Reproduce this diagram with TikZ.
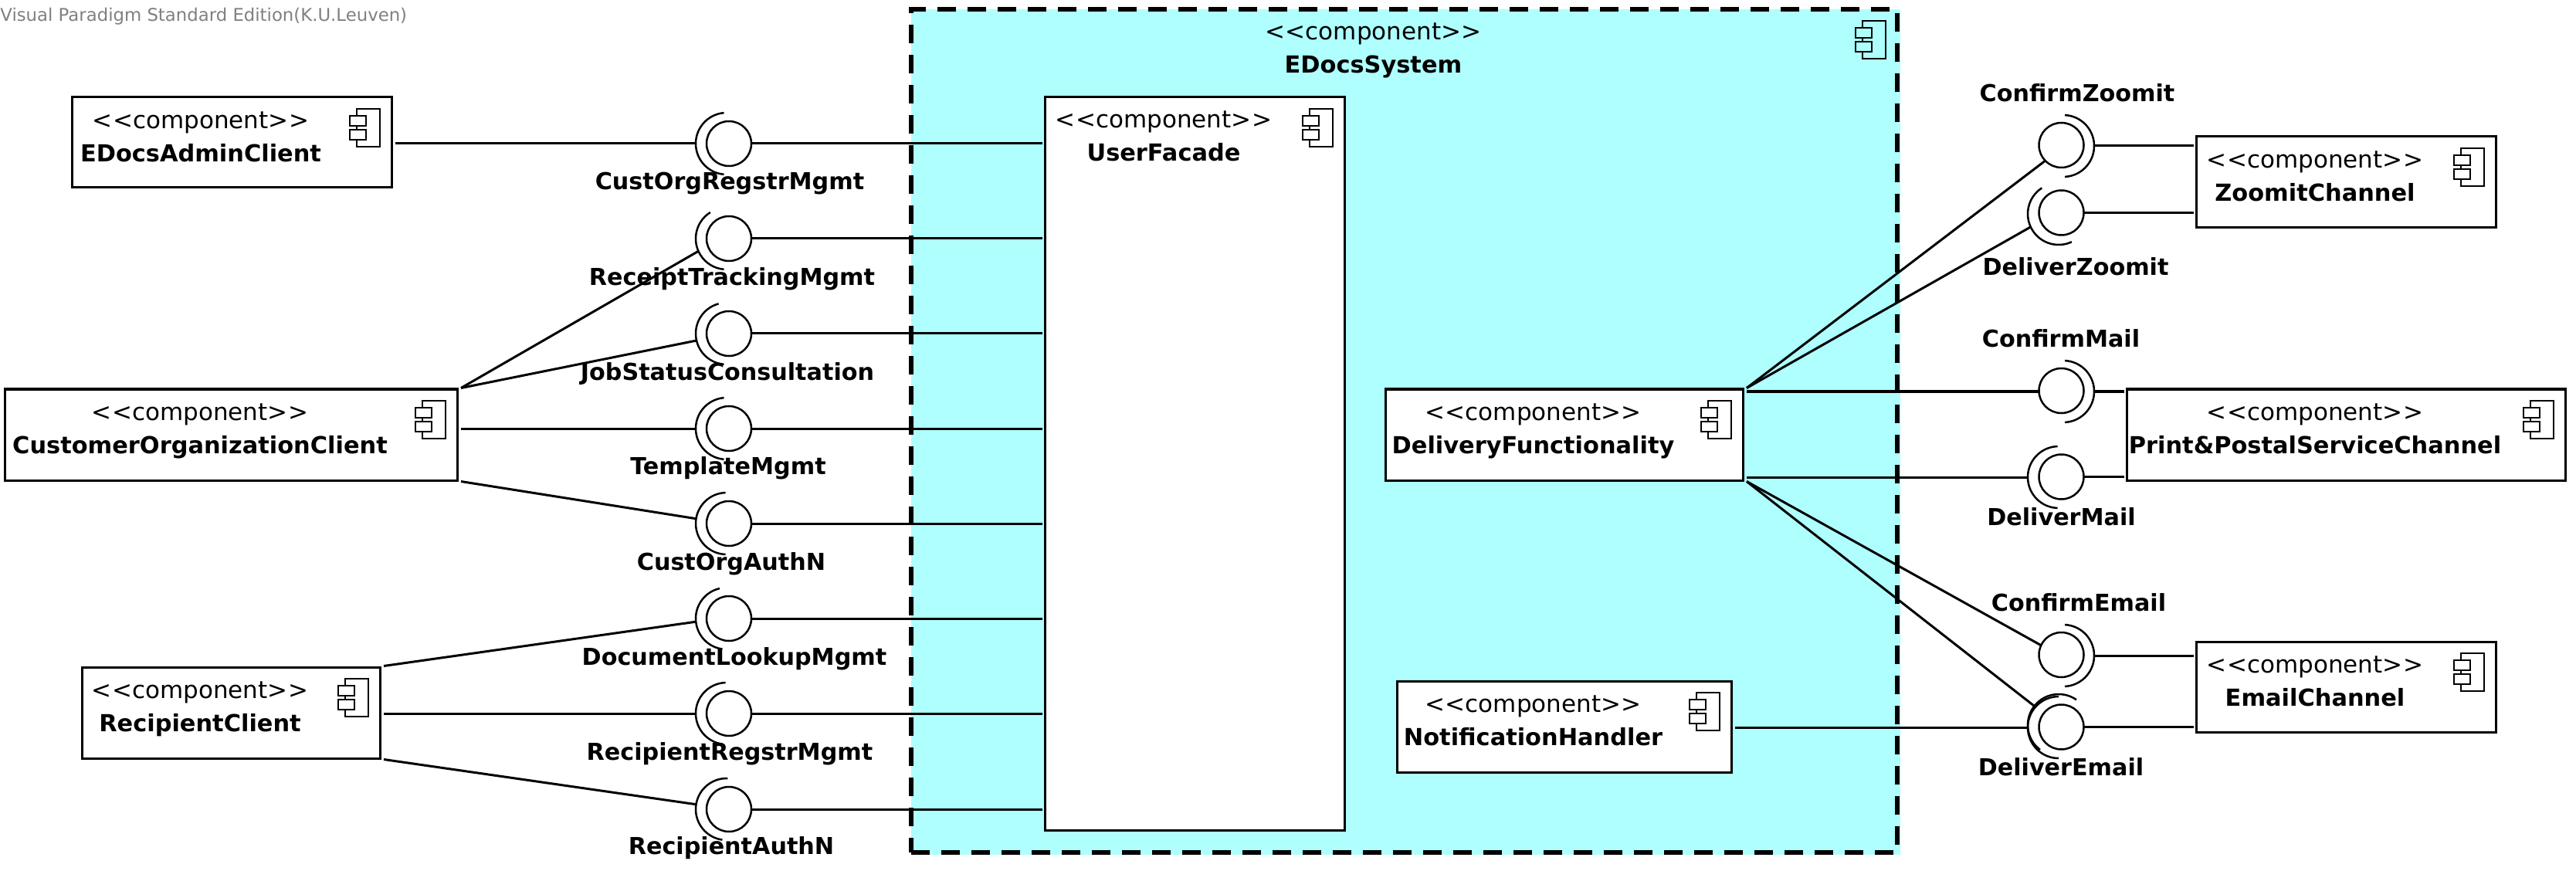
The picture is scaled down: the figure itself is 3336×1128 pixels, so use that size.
\documentclass[tikz,border=0pt]{standalone}
\usepackage{xcolor}
\usepackage{fontspec}
\usepackage{tikz}
\setmainfont{DejaVu Sans}

\definecolor{systemcyan}{HTML}{AFFFFF}

\tikzset{
  compbox/.style={draw,fill=white,line width=1.5pt,inner sep=0pt,outer xsep=2.5pt,outer ysep=0.75pt,minimum height=59pt},
  systembox/.style={draw,dashed,dash pattern=on 12pt off 7.5pt,line width=2.75pt,inner sep=0pt,outer xsep=2.5pt,outer ysep=0.75pt},
  ball/.style={circle,draw,line width=1.25pt,inner sep=0pt,outer sep=0pt,minimum size=29pt},
  cup/.style={circle,inner sep=0pt,outer sep=0pt,minimum size=40pt},
  cuparc/.style={line width=1.25pt},
  wire/.style={line width=1.5pt},
  wirewest/.style={wire,shorten >=-1pt},
  iconline/.style={line width=1.25pt},
  ifclabel/.style={font=\fontsize{15.1}{18}\selectfont\bfseries,inner sep=0pt},
  watermark/.style={anchor=west,text=black!50,font=\fontsize{11.4}{13}\selectfont,inner sep=0pt}
}

% box text: stereotype and name, left of the icon
\newcommand{\comptext}[2][5pt]{\fontsize{15.5}{20.5}\selectfont\begin{tabular}{@{}c@{}}\textless\kern0.4pt\textless component\textgreater\kern0.4pt\textgreater\\[1pt] {\fontsize{15.2}{20.5}\selectfont\bfseries #2}\\[#1]\end{tabular}\hspace*{40pt}}

% component icon in the upper right corner of a box
\newcommand{\compicon}[2][white]{
  \draw[iconline] ([shift={(-50,-16.5)}]#2.north east) rectangle ++(30,-49);
  \draw[iconline,fill=#1] ([shift={(-59,-25.5)}]#2.north east) rectangle ++(21,-13);
  \draw[iconline,fill=#1] ([shift={(-59,-43.5)}]#2.north east) rectangle ++(21,-13);
}

% open half circle round an interface
\newcommand{\cupdraw}[3]{\draw[cuparc] (#1.#2) arc[start angle=#2,end angle=#3,radius=20pt];}

\begin{document}
\begin{tikzpicture}[x=0.5pt,y=0.5pt]
  \useasboundingbox (0,0) rectangle (3336,-1128);

  \node[watermark] (edition) at (0,-21) {Visual Paradigm Standard Edition(K.U.Leuven)};

  % System
  \fill[systemcyan] (1180,-12) rectangle (2461,-1107);
  \node[systembox,minimum width=638.5pt,minimum height=546pt] (edocssystem) at (1818.5,-558) {\comptext[493pt]{EDocsSystem}};
  \compicon[systemcyan]{edocssystem}

  % Components
  \node[compbox,minimum width=207pt,minimum height=58.5pt] (edocsadmin) at (300,-184.5) {\comptext{EDocsAdminClient}};
  \node[compbox,minimum width=293pt] (customer) at (299,-563) {\comptext{CustomerOrganizationClient}};
  \node[compbox,minimum width=193pt] (recipient) at (299,-923) {\comptext{RecipientClient}};
  \node[compbox,minimum width=194pt,minimum height=474.5pt] (userfacade) at (1547,-600.5) {\comptext[421.5pt]{UserFacade}};
  \node[compbox,minimum width=231.5pt] (delivery) at (2025.5,-563) {\comptext{DeliveryFunctionality}};
  \node[compbox,minimum width=216.5pt] (notification) at (2025.5,-941) {\comptext{NotificationHandler}};
  \node[compbox,minimum width=194pt] (zoomit) at (3038,-236) {\comptext{ZoomitChannel}};
  \node[compbox,minimum width=284pt] (print) at (3038,-563) {\comptext{Print\&PostalServiceChannel}};
  \node[compbox,minimum width=194pt,minimum height=58.5pt] (email) at (3038,-889.5) {\comptext{EmailChannel}};

  \compicon{edocsadmin}
  \compicon{customer}
  \compicon{recipient}
  \compicon{userfacade}
  \compicon{delivery}
  \compicon{notification}
  \compicon{zoomit}
  \compicon{print}
  \compicon{email}

  % Provided interfaces, left
  \node[ball] (custorgregstr) at (944,-186) {};
  \node[ball] (receipttracking) at (944,-309) {};
  \node[ball] (jobstatus) at (944,-432) {};
  \node[ball] (templatemgmt) at (944,-555) {};
  \node[ball] (custorgauthn) at (944,-678) {};
  \node[ball] (documentlookup) at (944,-801) {};
  \node[ball] (recipientregstr) at (944,-924) {};
  \node[ball] (recipientauthn) at (944,-1048) {};

  % Required interfaces, left
  \node[cup] (custorgregstrcup) at (941,-186) {};
  \node[cup] (receipttrackingcup) at (941,-309) {};
  \node[cup] (jobstatuscup) at (941,-432) {};
  \node[cup] (templatemgmtcup) at (941,-555) {};
  \node[cup] (custorgauthncup) at (941,-678) {};
  \node[cup] (documentlookupcup) at (941,-801) {};
  \node[cup] (recipientregstrcup) at (941,-924) {};
  \node[cup] (recipientauthncup) at (941,-1048) {};

  \cupdraw{custorgregstrcup}{95}{265}
  \cupdraw{receipttrackingcup}{122}{265}
  \cupdraw{jobstatuscup}{105}{265}
  \cupdraw{templatemgmtcup}{95}{265}
  \cupdraw{custorgauthncup}{92}{268}
  \cupdraw{documentlookupcup}{103}{262}
  \cupdraw{recipientregstrcup}{92}{262}
  \cupdraw{recipientauthncup}{88}{262}

  % Interfaces, right
  \node[ball] (confirmzoomit) at (2669.5,-188) {};
  \node[ball] (deliverzoomit) at (2669.5,-275.5) {};
  \node[ball] (confirmmail) at (2669.5,-506) {};
  \node[ball] (delivermail) at (2669.5,-617.5) {};
  \node[ball] (confirmemail) at (2669.5,-848) {};
  \node[ball] (deliveremail) at (2669.5,-941.5) {};

  \node[cup] (confirmzoomitcup) at (2672,-189) {};
  \node[cup] (deliverzoomitcup) at (2666,-277) {};
  \node[cup] (confirmmailcup) at (2672,-507) {};
  \node[cup] (delivermailcup) at (2666,-618) {};
  \node[cup] (confirmemailcup) at (2672,-849) {};
  \node[cup] (deliveremailcup) at (2666,-942) {};
  \node[cup] (deliveremailcupb) at (2666,-939) {};

  \cupdraw{confirmzoomitcup}{87}{-87}
  \cupdraw{deliverzoomitcup}{123}{295}
  \cupdraw{confirmmailcup}{87}{-87}
  \cupdraw{delivermailcup}{92}{268}
  \cupdraw{confirmemailcup}{87}{-87}
  \cupdraw{deliveremailcup}{90}{270}
  \cupdraw{deliveremailcupb}{55}{233}

  % Connectors, clients to interfaces
  \draw[wire] (edocsadmin.east |- custorgregstrcup) -- (custorgregstrcup.west);
  \draw[wire] (customer.north east) -- (receipttrackingcup.204);
  \draw[wire] (customer.north east) -- (jobstatuscup.193);
  \draw[wire] (customer.east |- templatemgmtcup) -- (templatemgmtcup.west);
  \draw[wire] (customer.south east) -- (custorgauthncup.171);
  \draw[wire] (recipient.north east) -- (documentlookupcup.186);
  \draw[wire] (recipient.east |- recipientregstrcup) -- (recipientregstrcup.west);
  \draw[wire] (recipient.south east) -- (recipientauthncup.171);

  % Connectors, interfaces to facade
  \draw[wirewest] (custorgregstr.east) -- (userfacade.west |- custorgregstr);
  \draw[wirewest] (receipttracking.east) -- (userfacade.west |- receipttracking);
  \draw[wirewest] (jobstatus.east) -- (userfacade.west |- jobstatus);
  \draw[wirewest] (templatemgmt.east) -- (userfacade.west |- templatemgmt);
  \draw[wirewest] (custorgauthn.east) -- (userfacade.west |- custorgauthn);
  \draw[wirewest] (documentlookup.east) -- (userfacade.west |- documentlookup);
  \draw[wirewest] (recipientregstr.east) -- (userfacade.west |- recipientregstr);
  \draw[wirewest] (recipientauthn.east) -- (userfacade.west |- recipientauthn);

  % Connectors, delivery to interfaces
  \draw[wire] (delivery.north east) -- (confirmzoomit.224);
  \draw[wire] (delivery.north east) -- (deliverzoomitcup.205);
  \draw[wire] (delivery.east |- confirmmailcup) -- (confirmmail.west |- confirmmailcup);
  \draw[wire] (delivery.east |- delivermailcup) -- (delivermailcup.west);
  \draw[wire] (delivery.south east) -- (confirmemail.155);
  \draw[wire] (delivery.south east) -- (deliveremailcupb.142);
  \draw[wire] (notification.east |- deliveremailcup) -- (deliveremailcup.west);

  % Connectors, interfaces to channels
  \draw[wirewest] (confirmzoomitcup.east) -- (zoomit.west |- confirmzoomitcup);
  \draw[wirewest] (deliverzoomit.east) -- (zoomit.west |- deliverzoomit);
  \draw[wirewest] (confirmmailcup.east) -- (print.west |- confirmmailcup);
  \draw[wirewest] (delivermail.east) -- (print.west |- delivermail);
  \draw[wirewest] (confirmemailcup.east) -- (email.west |- confirmemailcup);
  \draw[wirewest] (deliveremail.east) -- (email.west |- deliveremail);

  % Interface labels
  \node[ifclabel] (custorgregstrlabel) at (945,-238) {CustOrgRegstrMgmt};
  \node[ifclabel] (receipttrackinglabel) at (948,-361) {ReceiptTrackingMgmt};
  \node[ifclabel] (jobstatuslabel) at (942,-484) {JobStatusConsultation};
  \node[ifclabel] (templatemgmtlabel) at (943,-606) {TemplateMgmt};
  \node[ifclabel] (custorgauthnlabel) at (947,-730) {CustOrgAuthN};
  \node[ifclabel] (documentlookuplabel) at (951,-853) {DocumentLookupMgmt};
  \node[ifclabel] (recipientregstrlabel) at (945,-976) {RecipientRegstrMgmt};
  \node[ifclabel] (recipientauthnlabel) at (947,-1098) {RecipientAuthN};
  \node[ifclabel] (confirmzoomitlabel) at (2690,-120) {ConfirmZoomit};
  \node[ifclabel] (deliverzoomitlabel) at (2688,-345) {DeliverZoomit};
  \node[ifclabel] (confirmmaillabel) at (2669,-438) {ConfirmMail};
  \node[ifclabel] (delivermaillabel) at (2669.5,-669) {DeliverMail};
  \node[ifclabel] (confirmemaillabel) at (2692,-780) {ConfirmEmail};
  \node[ifclabel] (deliveremaillabel) at (2669,-993) {DeliverEmail};
\end{tikzpicture}
\end{document}
